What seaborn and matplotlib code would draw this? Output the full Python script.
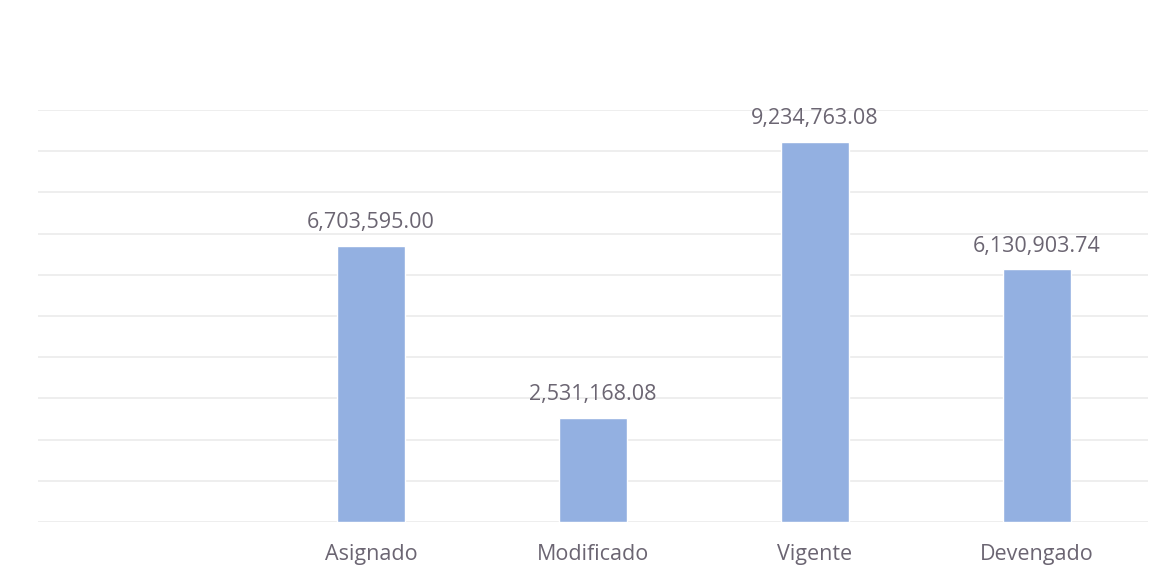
import matplotlib
matplotlib.use("Agg")
import matplotlib.pyplot as plt
import seaborn as sns
import pandas as pd

categories = ["Asignado", "Modificado", "Vigente", "Devengado"]
values = [6703595.00, 2531168.08, 9234763.08, 6130903.74]

sns.set_theme(style="white")
plt.rcParams['font.family'] = ['Open Sans', 'DejaVu Sans']

df = pd.DataFrame({"cat": categories, "val": values})

fig = plt.figure(figsize=(11.61, 5.8), dpi=100)
ax = fig.add_axes([38/1161, 58/580, (1148-38)/1161, (522-110)/580])

sns.barplot(data=df, x="cat", y="val", order=categories, color="#93b0e1",
            saturation=1, width=0.31, ax=ax)

ax.set_xlim(-1.5, 3.5)
ax.set_ylim(0, 10_000_000)
ax.set_yticks(range(0, 10_000_001, 1_000_000))
ax.yaxis.grid(True, color="#ebebeb", linewidth=1.2)
ax.set_axisbelow(True)
ax.tick_params(axis="y", left=False, labelleft=False)
ax.tick_params(axis="x", bottom=False, length=0, pad=15.5, labelsize=15.5, labelcolor="#6b6572")
for s in ax.spines.values():
    s.set_visible(False)
ax.set_xlabel("")
ax.set_ylabel("")

for c in ax.containers:
    ax.bar_label(c, labels=[f"{v:,.2f}" for v in values], padding=9,
                 fontsize=15.5, color="#6b6572")

fig.savefig("out.png", dpi=100, facecolor="white")
